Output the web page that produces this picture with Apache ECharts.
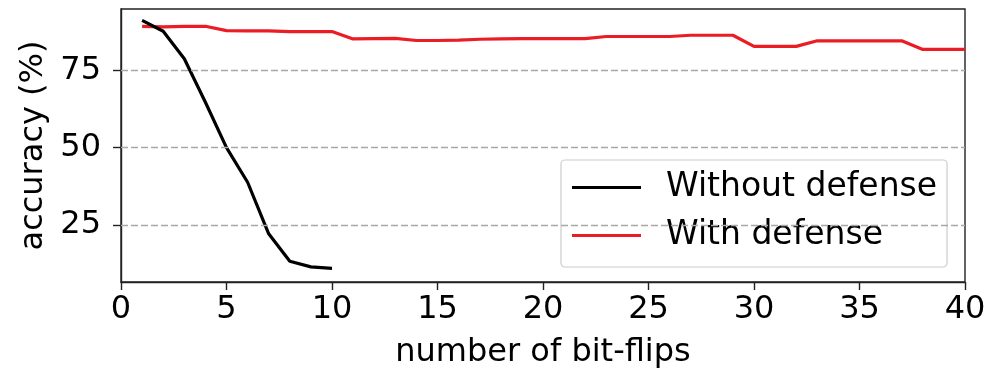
<!DOCTYPE html>
<html>
<head>
<meta charset="utf-8">
<script src="https://cdn.jsdelivr.net/npm/echarts@6/dist/echarts.min.js"></script>
<style>html,body{margin:0;padding:0;background:#fff;}#c{width:998px;height:374px;}</style>
</head>
<body>
<div id="c"></div>
<script>
const flipsWithout = [1,2,3,4,5,6,7,8,9,10];
const accWithout = [91.2, 87.7, 78.8, 64.7, 50.0, 38.8, 22.1, 13.2, 11.4, 10.9];
const flipsWith = [1,2,3,4,5,6,7,8,9,10,11,12,13,14,15,16,17,18,19,20,21,22,23,24,25,26,27,28,29,30,31,32,33,34,35,36,37,38,39,40];
const accWith = [89.3, 89.1, 89.3, 89.3, 87.9, 87.8, 87.8, 87.6, 87.6, 87.6, 85.2, 85.3, 85.4, 84.7, 84.7, 84.8, 85.1, 85.2, 85.3, 85.3, 85.3, 85.3, 86.0, 86.0, 86.0, 86.0, 86.4, 86.4, 86.4, 82.8, 82.8, 82.8, 84.6, 84.6, 84.6, 84.6, 84.6, 81.8, 81.8, 81.8];
const yTicks = [25, 50, 75];
const seriesNames = ['Without defense', 'With defense'];
const xName = 'number of bit-flips';
const yName = 'accuracy (%)';

const FONT = 'DejaVu Sans';
const chart = echarts.init(document.getElementById('c'), null, {renderer: 'canvas'});
chart.setOption({
  animation: false,
  backgroundColor: '#fff',
  grid: {left: 121, right: 33, top: 9, bottom: 91, show: true, borderColor: '#222', borderWidth: 1.4, backgroundColor: 'transparent'},
  legend: {
    data: seriesNames,
    orient: 'vertical',
    left: 561, top: 160,
    padding: [11, 10, 15, 11],
    itemWidth: 69, itemHeight: 3, itemGap: 15,
    icon: 'rect',
    backgroundColor: 'rgba(255,255,255,0.8)',
    borderColor: '#cccccc', borderWidth: 1.2, borderRadius: 4,
    textStyle: {fontFamily: FONT, fontSize: 33, color: '#000', lineHeight: 33, padding: [0, 0, 0, 20]}
  },
  xAxis: {
    type: 'value', min: 0, max: 40, interval: 5,
    name: xName, nameLocation: 'middle', nameGap: 55,
    nameTextStyle: {fontFamily: FONT, fontSize: 32, color: '#000'},
    axisLine: {show: true, lineStyle: {color: '#222', width: 1.4}},
    axisTick: {show: true, length: 8, lineStyle: {color: '#222', width: 1.4}},
    axisLabel: {fontFamily: FONT, fontSize: 32, color: '#000', margin: 12},
    splitLine: {show: false}
  },
  yAxis: {
    type: 'value', min: 6.5, max: 94.9,
    name: yName, nameLocation: 'middle', nameGap: 70,
    nameTextStyle: {fontFamily: FONT, fontSize: 32, color: '#000'},
    axisLine: {show: true, lineStyle: {color: '#222', width: 1.4}},
    axisTick: {show: true, length: 8, customValues: yTicks, lineStyle: {color: '#222', width: 1.4}},
    axisLabel: {fontFamily: FONT, fontSize: 32, color: '#000', margin: 20, customValues: yTicks},
    splitLine: {show: false}
  },
  series: [
    {
      name: seriesNames[1], type: 'line', z: 2,
      data: flipsWith.map((x, i) => [x, accWith[i]]),
      showSymbol: false, symbol: 'none',
      lineStyle: {color: '#ec1c24', width: 3.2},
      itemStyle: {color: '#ec1c24'},
      markLine: {
        silent: true, symbol: 'none', label: {show: false},
        lineStyle: {color: '#a8a8a8', type: [7, 3], width: 1.4},
        data: yTicks.map(v => ({yAxis: v}))
      }
    },
    {
      name: seriesNames[0], type: 'line', z: 3,
      data: flipsWithout.map((x, i) => [x, accWithout[i]]),
      showSymbol: false, symbol: 'none',
      lineStyle: {color: '#000', width: 3.2},
      itemStyle: {color: '#000'}
    }
  ]
});
</script>
</body>
</html>
